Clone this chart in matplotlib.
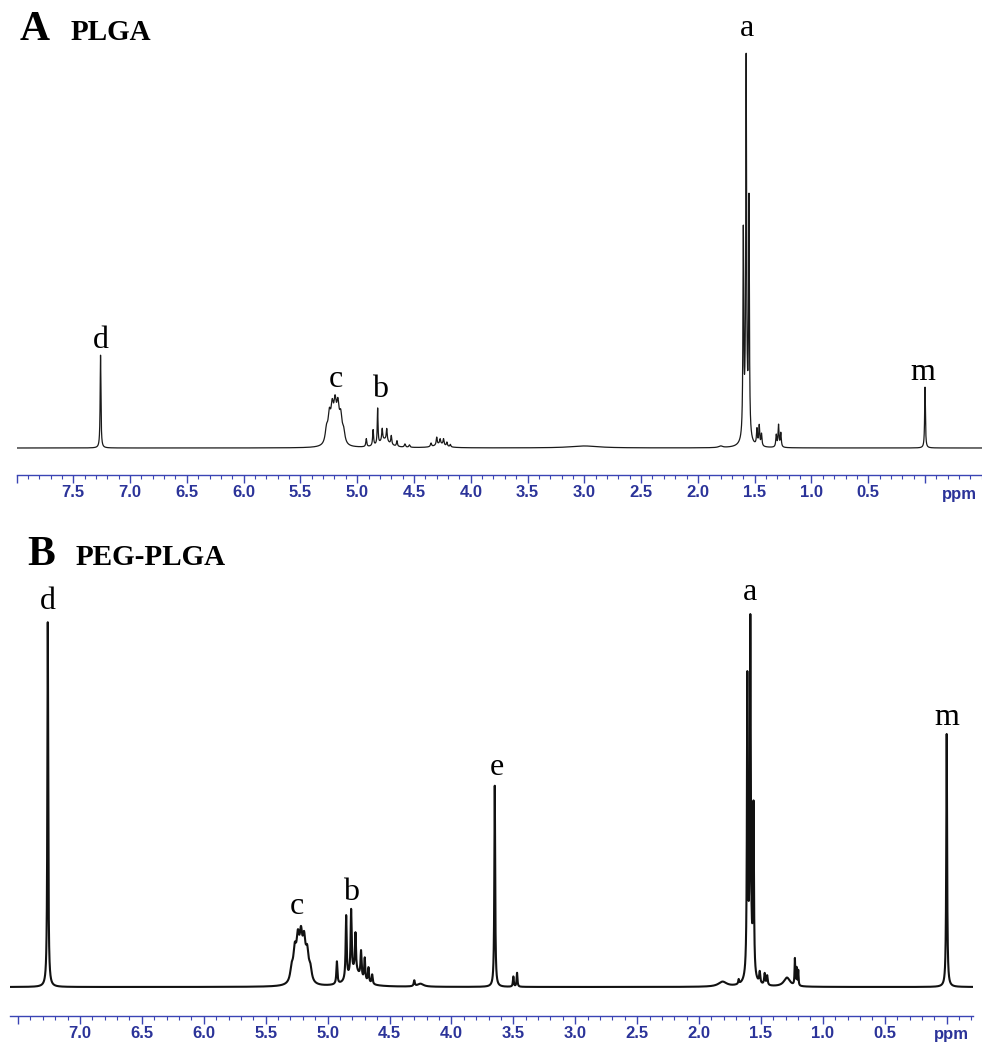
import numpy as np
import matplotlib
matplotlib.use("Agg")
import matplotlib.pyplot as plt
from matplotlib.ticker import MultipleLocator

# peak tables: shift (ppm), height (peak a = 100), half width (ppm)
PLGA_PPM = [7.26, 5.27, 5.245, 5.22, 5.195, 5.17, 5.145, 5.12, 4.92, 4.86, 4.82, 4.78, 4.74, 4.70, 4.65,
            4.76, 4.58, 4.54, 4.35, 4.30, 4.27, 4.24, 4.21, 4.18, 4.27, 3.00, 1.80, 1.60, 1.575, 1.55,
            1.575, 1.48, 1.46, 1.44, 1.31, 1.29, 1.27, 0.00]
PLGA_INT = [23.2, 3.4, 6.4, 7.7, 8.4, 8.1, 6.0, 2.9, 2.0, 4.0, 9.0, 3.0, 3.0, 2.2, 1.4,
            2.0, 0.8, 0.6, 0.9, 1.9, 1.2, 1.5, 1.0, 0.6, 1.0, 0.5, 0.4, 50, 88, 58,
            8, 4.0, 5.0, 3.0, 3.0, 5.5, 3.5, 15.2]
PLGA_HW = [0.004, 0.014, 0.014, 0.014, 0.014, 0.014, 0.014, 0.014, 0.005, 0.005, 0.004, 0.005, 0.005, 0.005,
           0.005, 0.05, 0.006, 0.006, 0.006, 0.005, 0.005, 0.005, 0.005, 0.005, 0.05, 0.15, 0.02, 0.004,
           0.004, 0.004, 0.02, 0.005, 0.005, 0.005, 0.005, 0.005, 0.005, 0.004]

PEG_PPM = [7.26, 5.29, 5.265, 5.24, 5.215, 5.19, 5.165, 5.14, 4.925, 4.85, 4.81, 4.775, 4.73, 4.70, 4.67,
           4.64, 4.78, 4.30, 4.25, 3.65, 3.50, 3.47, 1.81, 1.68, 1.61, 1.586, 1.56, 1.586,
           1.51, 1.47, 1.45, 1.29, 1.226, 1.212, 1.199, 0.00]
PEG_INT = [97, 3.4, 7.5, 9.8, 10.3, 9.4, 6.9, 3.4, 6.0, 17, 17, 10, 7, 6, 4,
           2.5, 4, 1.5, 0.8, 53.5, 2.7, 3.7, 1.3, 1.2, 78, 88, 44, 8,
           3.0, 3.0, 2.5, 2.4, 7.0, 4.5, 4.0, 67.3]
PEG_HW = [0.004, 0.014, 0.014, 0.014, 0.014, 0.014, 0.014, 0.014, 0.005, 0.005, 0.005, 0.005, 0.005, 0.005,
          0.005, 0.005, 0.06, 0.005, 0.03, 0.004, 0.004, 0.004, 0.04, 0.004, 0.004, 0.004, 0.004, 0.02,
          0.005, 0.005, 0.005, 0.03, 0.003, 0.003, 0.003, 0.004]

# peak letters: text, shift, height of the letter baseline
PLGA_LAB = ["d", "c", "b", "a", "m"]
PLGA_LAB_PPM = [7.26, 5.19, 4.80, 1.57, 0.02]
PLGA_LAB_Y = [25.0, 15.3, 12.8, 103.0, 17.0]
PEG_LAB = ["d", "c", "b", "e", "a", "m"]
PEG_LAB_PPM = [7.26, 5.245, 4.81, 3.635, 1.587, 0.0]
PEG_LAB_Y = [100.4, 19.5, 23.1, 56.4, 102.8, 69.7]

TICKS_A = [8.0, 7.5, 7.0, 6.5, 6.0, 5.5, 5.0, 4.5, 4.0, 3.5, 3.0, 2.5, 2.0, 1.5, 1.0, 0.5, 0.0]
TLAB_A = ["", "7.5", "7.0", "6.5", "6.0", "5.5", "5.0", "4.5", "4.0", "3.5", "3.0", "2.5", "2.0",
          "1.5", "1.0", "0.5", ""]
TICKS_B = [7.5, 7.0, 6.5, 6.0, 5.5, 5.0, 4.5, 4.0, 3.5, 3.0, 2.5, 2.0, 1.5, 1.0, 0.5, 0.0]
TLAB_B = ["", "7.0", "6.5", "6.0", "5.5", "5.0", "4.5", "4.0", "3.5", "3.0", "2.5", "2.0",
          "1.5", "1.0", "0.5", ""]

BLUE = "#3a44b4"
LBLUE = "#2b3399"
SERIF = ["Liberation Serif", "DejaVu Serif"]


def spectrum(x, ppm, inten, hw):
    y = np.zeros_like(x)
    for p, h, w in zip(ppm, inten, hw):
        y += h * w ** 2 / ((x - p) ** 2 + w ** 2)
    return y


def style_axis(ax, ticks, labels):
    for s in ("top", "left", "right"):
        ax.spines[s].set_visible(False)
    ax.spines["bottom"].set_color(BLUE)
    ax.spines["bottom"].set_linewidth(1.0)
    ax.set_yticks([])
    ax.set_xticks(ticks, labels=labels)
    ax.xaxis.set_minor_locator(MultipleLocator(0.1))
    ax.tick_params(axis="x", which="major", direction="out", length=5.5, width=1.0, color=BLUE,
                   labelcolor=LBLUE, pad=2, labelsize=12)
    ax.tick_params(axis="x", which="minor", direction="out", length=2.8, width=0.8, color=BLUE)
    for t in ax.get_xticklabels():
        t.set_fontweight("bold")
        t.set_family("Liberation Sans")
    ax.text(0.995, -0.042, "ppm", transform=ax.transAxes, ha="right", va="center",
            color=LBLUE, fontsize=12, fontweight="bold", family="Liberation Sans")
    ax.patch.set_alpha(0)


fig = plt.figure(figsize=(9.82, 10.44), dpi=100)

ax1 = fig.add_axes([16.5 / 982, 1 - 475 / 1044, 965.3 / 982, 455 / 1044])
x1 = np.linspace(8.0, -0.5, 40000)
ax1.plot(x1, spectrum(x1, PLGA_PPM, PLGA_INT, PLGA_HW), color="#1a1a1a", lw=0.9)
ax1.set_xlim(8.0, -0.5)
ax1.set_ylim(-6.75, 107)
style_axis(ax1, TICKS_A, TLAB_A)
for s, p, yy in zip(PLGA_LAB, PLGA_LAB_PPM, PLGA_LAB_Y):
    ax1.text(p, yy, s, ha="center", va="baseline", fontsize=23, family=SERIF)

ax2 = fig.add_axes([10 / 982, 1 - 1015.7 / 1044, 963.3 / 982, 445.7 / 1044])
x2 = np.linspace(7.565, -0.215, 40000)
ax2.plot(x2, spectrum(x2, PEG_PPM, PEG_INT, PEG_HW), color="#111111", lw=1.5)
ax2.set_xlim(7.565, -0.215)
ax2.set_ylim(-7.63, 110.9)
style_axis(ax2, TICKS_B, TLAB_B)
for s, p, yy in zip(PEG_LAB, PEG_LAB_PPM, PEG_LAB_Y):
    ax2.text(p, yy, s, ha="center", va="baseline", fontsize=23, family=SERIF)

# panel titles
fig.text(20 / 982, 1 - 40 / 1044, "A", fontsize=30, fontweight="bold", family=SERIF, va="baseline")
fig.text(71 / 982, 1 - 40 / 1044, "PLGA", fontsize=21, fontweight="bold", family=SERIF, va="baseline")
fig.text(27 / 982, 1 - 565 / 1044, "B", fontsize=30, fontweight="bold", family=SERIF, va="baseline")
fig.text(76 / 982, 1 - 565 / 1044, "PEG-PLGA", fontsize=21, fontweight="bold", family=SERIF, va="baseline")

fig.savefig("out.png", dpi=100)
